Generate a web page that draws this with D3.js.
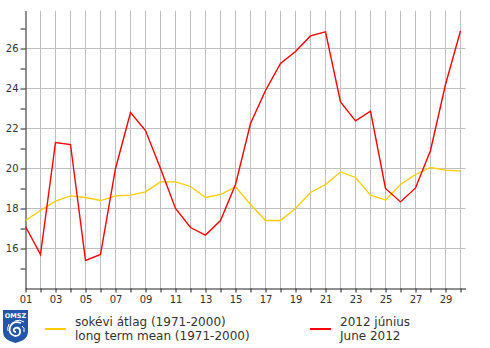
<!DOCTYPE html>
<html>
<head>
<meta charset="utf-8">
<script src="https://cdn.jsdelivr.net/npm/d3@7"></script>
<style>
  body { margin: 0; background: #fff; }
  text { font-family: "DejaVu Sans", Verdana, sans-serif; fill: #333; }
</style>
</head>
<body>
<div id="chart-area"></div>
<script>
// daily mean temperature, June 2012 vs long term mean
const days = d3.range(1, 31)
const june2012 = [17.1, 15.7, 21.3, 21.2, 15.4, 15.7, 20.0, 22.8, 21.9, 20.0,
  18.0, 17.05, 16.67, 17.4, 19.2, 22.25, 23.9, 25.25, 25.85, 26.63,
  26.83, 23.33, 22.38, 22.87, 19.0, 18.33, 19.03, 20.9, 24.2, 26.88]
const longMean = [17.4, 17.9, 18.37, 18.63, 18.55, 18.4, 18.63, 18.67, 18.83, 19.33,
  19.33, 19.1, 18.55, 18.7, 19.08, 18.2, 17.4, 17.4, 18.0, 18.8,
  19.2, 19.83, 19.55, 18.67, 18.42, 19.2, 19.7, 20.05, 19.92, 19.87]
const yTicks = d3.range(15, 28)
const yGrid = [16, 18, 20, 22, 24, 26]
const legendItems = [
  {color: "#ffcc00", lines: ["sokévi átlag (1971-2000)", "long term mean (1971-2000)"], x: 45},
  {color: "#ff0000", lines: ["2012 június", "June 2012"], x: 310}
]

const W = 490, H = 348
const svg = d3.select("#chart-area").append("svg")
  .attr("width", W)
  .attr("height", H)

const g = svg.append("g").attr("transform", "translate(0.5, 0.5)")

const x = d3.scaleLinear().domain([1, 30.3333]).range([25, 465])
const y = d3.scaleLinear().domain([14, 27.9]).range([288, 10])

// grid
g.append("g").selectAll("line").data(days.slice(1)).join("line")
  .attr("x1", d => x(d)).attr("x2", d => x(d))
  .attr("y1", y(27.9)).attr("y2", y(14))
  .attr("stroke", "#c0c0c0")
g.append("g").selectAll("line").data(yGrid).join("line")
  .attr("x1", x(1)).attr("x2", x(30.3333))
  .attr("y1", d => y(d)).attr("y2", d => y(d))
  .attr("stroke", "#c0c0c0")

// axes
const xAxis = d3.axisBottom(x)
  .tickValues(days)
  .tickSize(4)
  .tickSizeOuter(0)
  .tickPadding(3)
  .tickFormat(d => d % 2 === 1 ? d3.format("02d")(d) : "")
const xAxisGroup = g.append("g")
  .attr("transform", `translate(0, ${y(14)})`)
  .call(xAxis)

const yAxis = d3.axisLeft(y)
  .tickValues(yTicks)
  .tickSize(5)
  .tickSizeOuter(0)
  .tickPadding(2)
  .tickFormat(d => d % 2 === 0 ? d : "")
const yAxisGroup = g.append("g")
  .attr("transform", `translate(${x(1)}, 0)`)
  .call(yAxis)

svg.selectAll(".domain, .tick line").attr("stroke", "#222")
svg.selectAll(".tick text")
  .attr("font-family", "DejaVu Sans, sans-serif")
  .attr("font-size", "10px")
  .attr("fill", "#333")

// lines
const line = d3.line().x((d, i) => x(days[i])).y(d => y(d))
g.append("path").datum(longMean)
  .attr("d", line)
  .attr("fill", "none")
  .attr("stroke", "#ffcc00")
  .attr("stroke-width", 1.3)
g.append("path").datum(june2012)
  .attr("d", line)
  .attr("fill", "none")
  .attr("stroke", "#ff0000")
  .attr("stroke-width", 1.4)

// legend
const legend = svg.append("g")
legendItems.forEach(item => {
  legend.append("line")
    .attr("x1", item.x).attr("x2", item.x + 21)
    .attr("y1", 329).attr("y2", 329)
    .attr("stroke", item.color)
    .attr("stroke-width", 2)
  item.lines.forEach((t, i) => {
    legend.append("text")
      .attr("x", item.x + 30)
      .attr("y", 326 + i * 14)
      .attr("font-size", "12px")
      .text(t)
  })
})

// OMSZ logo
const logo = svg.append("g").attr("transform", "translate(3, 310)")
logo.append("path")
  .attr("d", "M0,0 H25 V22 Q25,30 12.5,33 Q0,30 0,22 Z")
  .attr("fill", "#2356a8")
logo.append("text")
  .attr("x", 12.5).attr("y", 7.5)
  .attr("text-anchor", "middle")
  .attr("font-size", "6.5px")
  .attr("font-weight", "bold")
  .style("fill", "#fff")
  .text("OMSZ")
logo.append("path")
  .attr("d", "M18,13 Q10,10 7,17 Q5,24 12,26 Q18,26 17,20 Q15,16 11,19 Q10,22 13,22")
  .attr("fill", "none")
  .attr("stroke", "#fff")
  .attr("stroke-width", 1.8)
logo.append("path")
  .attr("d", "M12,11 Q17,9 21,12 M19,16 Q22,18 21,22 M6,14 Q4,18 5,21")
  .attr("fill", "none")
  .attr("stroke", "#fff")
  .attr("stroke-width", 1)
</script>
</body>
</html>
